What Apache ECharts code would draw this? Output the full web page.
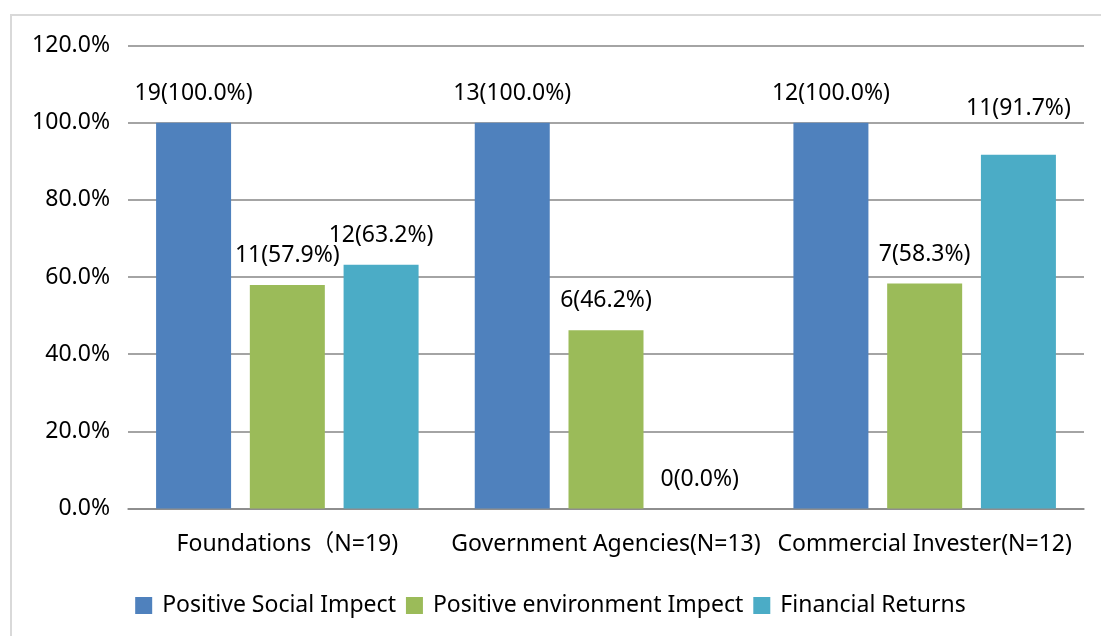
<!DOCTYPE html>
<html>
<head>
<meta charset="utf-8">
<script src="https://cdn.jsdelivr.net/npm/echarts@6/dist/echarts.min.js"></script>
<style>
  html, body { margin: 0; padding: 0; background: #fff; }
  #chart { width: 1101px; height: 636px; }
</style>
</head>
<body>
<div id="chart"></div>
<script>
// 类别
const categories = ['Foundations（N=19)', 'Government Agencies(N=13)', 'Commercial Invester(N=12)'];
const seriesNames = ['Positive Social Impect', 'Positive environment Impect', 'Financial Returns'];
// 百分比
const socialPct = [100.0, 100.0, 100.0];
const envPct = [57.9, 46.2, 58.3];
const financePct = [63.2, 0.0, 91.7];
// 数量
const socialNum = [19, 13, 12];
const envNum = [11, 6, 7];
const financeNum = [12, 0, 11];
const yTicks = [0, 20, 40, 60, 80, 100, 120];

const colors = ['#4F81BD', '#9BBB59', '#4BACC6'];
const font = '"Noto Sans", "Noto Sans CJK SC", sans-serif';
const fs = 23;

function makeData(pcts, nums, raised) {
  return pcts.map((v, i) => {
    let item = { value: v, num: nums[i] };
    if (raised && raised[i]) {
      item.label = { offset: [0, -raised[i]] };
    }
    return item;
  });
}

let chart = echarts.init(document.getElementById('chart'));
let option = {
  animation: false,
  color: colors,
  textStyle: { fontFamily: font },
  graphic: [{
    type: 'rect',
    shape: { x: 11, y: 15, width: 1200, height: 700 },
    style: { fill: 'none', stroke: '#d9d9d9', lineWidth: 2 },
    silent: true,
    z: -10
  }],
  grid: { left: 128, right: 17, top: 45.5, bottom: 127.5 },
  legend: {
    bottom: 14,
    left: 'center',
    itemWidth: 17,
    itemHeight: 17,
    itemGap: 10,
    icon: 'rect',
    textStyle: { fontSize: fs, color: '#000', fontFamily: font, padding: [0, 0, 0, 5] },
    data: seriesNames
  },
  xAxis: {
    type: 'category',
    data: categories,
    axisLine: { lineStyle: { color: '#868686', width: 1.5 } },
    axisTick: { show: false },
    axisLabel: { interval: 0, hideOverlap: false, fontSize: fs, color: '#000', margin: 24, fontFamily: font }
  },
  yAxis: {
    type: 'value',
    min: 0,
    max: yTicks[yTicks.length - 1],
    interval: 20,
    axisLine: { show: false },
    axisTick: { show: false },
    splitLine: { lineStyle: { color: '#868686', width: 1.5 } },
    axisLabel: {
      fontSize: fs, color: '#000', margin: 18, fontFamily: font,
      formatter: v => v.toFixed(1) + '%'
    }
  },
  series: [
    { name: seriesNames[0], data: makeData(socialPct, socialNum) },
    { name: seriesNames[1], data: makeData(envPct, envNum) },
    { name: seriesNames[2], data: makeData(financePct, financeNum, [0, 0, 17]) }
  ].map(s => Object.assign({
    type: 'bar',
    barWidth: 75,
    barGap: '25%',
    label: {
      show: true,
      position: 'top',
      distance: 18,
      fontSize: fs,
      color: '#000',
      fontFamily: font,
      formatter: p => p.data.num + '(' + p.value.toFixed(1) + '%)'
    }
  }, s))
};
chart.setOption(option);
</script>
</body>
</html>
